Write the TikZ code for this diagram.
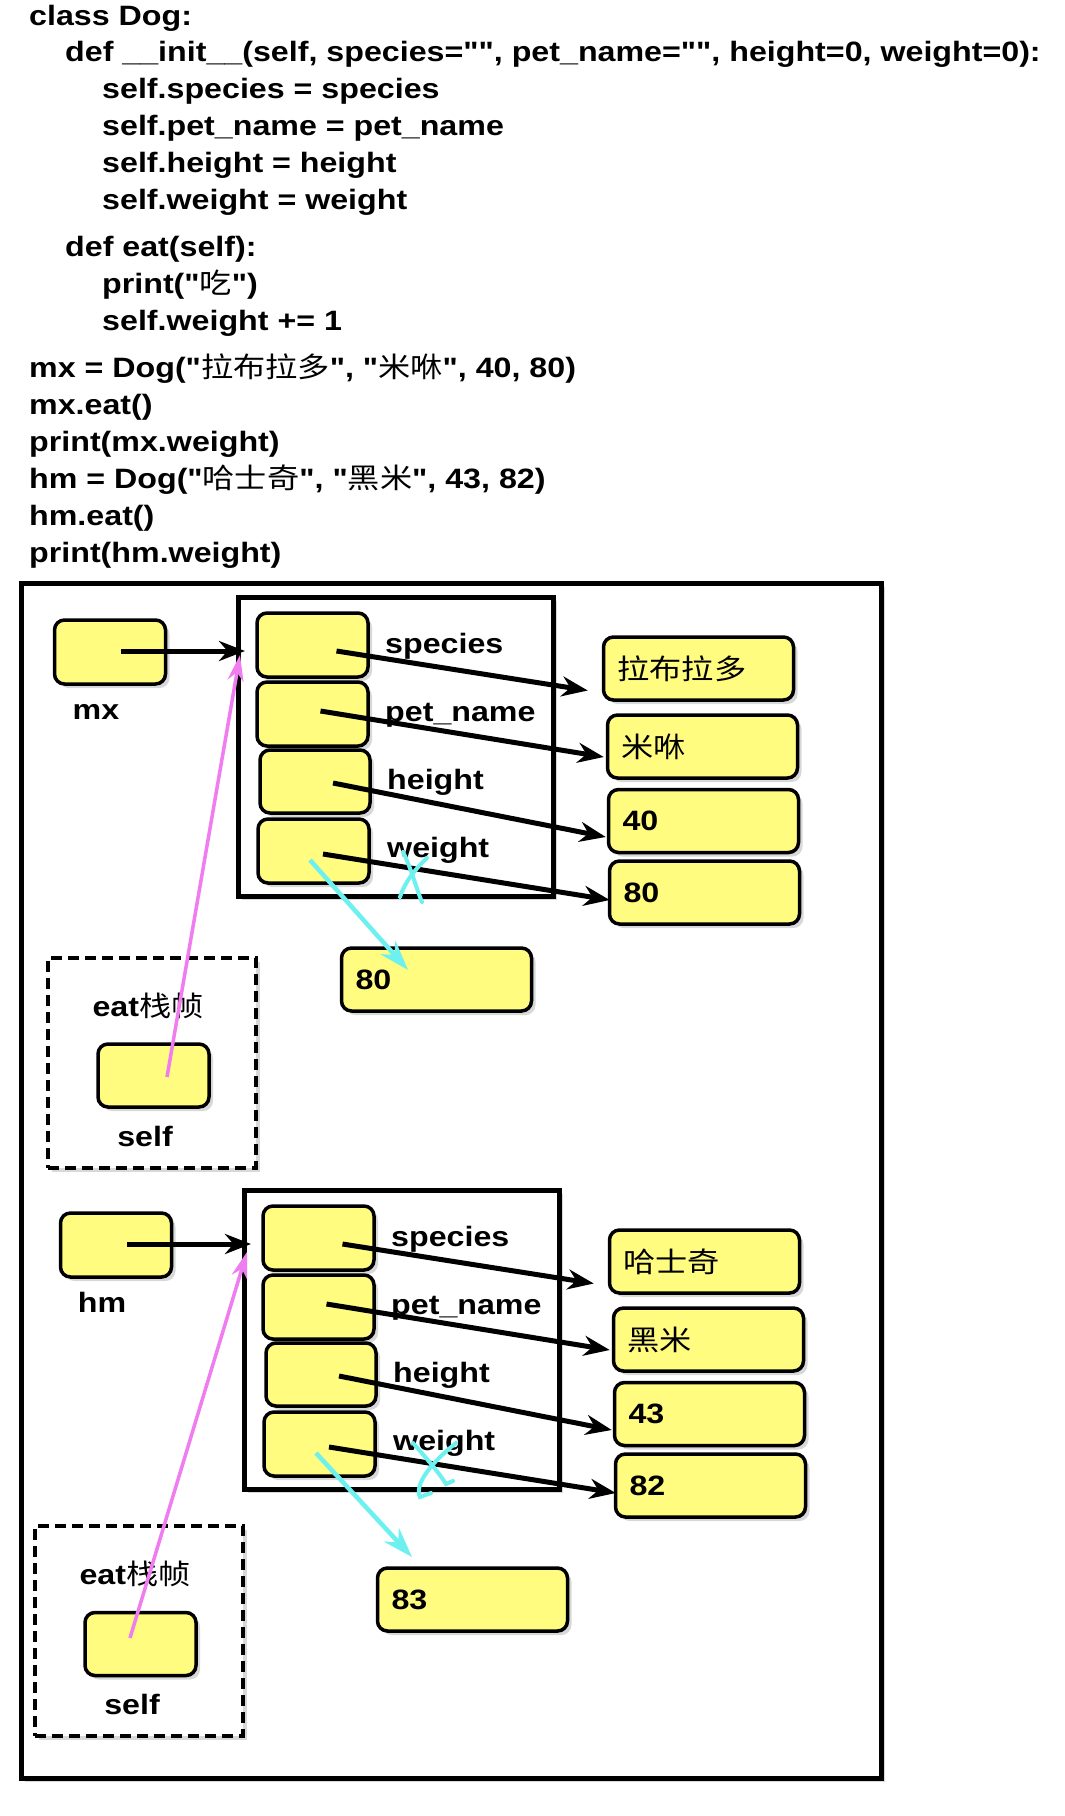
\documentclass[tikz,border=0pt]{standalone}
\usepackage{fontspec}
\usepackage{graphicx}
\setmainfont{Liberation Sans}[Ligatures=TeXOff]
\newfontfamily\cjk{Noto Sans CJK SC}
\usetikzlibrary{arrows.meta,shadows}
\definecolor{yel}{RGB}{255,252,128}
\definecolor{mag}{RGB}{240,125,240}
\definecolor{cya}{RGB}{108,240,240}
\newcommand\ST[1]{\scalebox{1.15}[1]{#1}}
\newcommand\C[1]{{\cjk\mdseries #1}}
\tikzset{
  shad/.style={drop shadow={shadow xshift=4pt,shadow yshift=-4pt,opacity=.3}},
  ybox/.style={draw,line width=3.5pt,rounded corners=10pt,fill=yel,shad,inner sep=0pt},
  slotbox/.style={ybox,minimum width=111pt,minimum height=64pt},
  valbox/.style={ybox,minimum height=63pt,text width=162pt,inner xsep=14pt,align=left},
  objbox/.style={draw,line width=5pt,fill=white,shad,minimum width=315pt,minimum height=299pt,inner sep=0pt},
  frame/.style={draw,line width=5pt,fill=white,shad,inner sep=0pt},
  eatframe/.style={draw,line width=4.5pt,dash pattern=on 11pt off 6pt,fill=white,shad,minimum width=208pt,minimum height=210pt,inner sep=0pt},
  code/.style={anchor=base west,inner sep=0pt},
  lbl/.style={anchor=base west,inner sep=0pt},
  arr/.style={line width=5pt,-{Stealth[length=26pt,width=20pt]}},
  magarr/.style={mag,line width=3.5pt,-{Stealth[length=26pt,width=16pt]}},
  cyaarr/.style={cya,line width=4.5pt,-{Stealth[length=30pt,width=20pt]}},
  cyamark/.style={cya,line width=4pt,line cap=round},
}
\newcommand\DogObj[6]{%
  \node[slotbox] (#1var) at (110,652) {};
  \node[anchor=base,inner sep=0pt] (#1varl) at (96,719) {\ST{#2}};
  \node[objbox] (#1obj) at (395.5,746.5) {};
  \node[slotbox] (#1s1) at (312.5,645) {};
  \node[slotbox] (#1s2) at (312.5,714) {};
  \node[slotbox,minimum width=110pt,minimum height=63pt] (#1s3) at (315,781.5) {};
  \node[slotbox] (#1s4) at (313.5,851) {};
  \node[lbl] (#1l1) at (385,653) {\ST{species}};
  \node[lbl] (#1l2) at (385,721) {\ST{pet\_name}};
  \node[lbl] (#1l3) at (387,789) {\ST{height}};
  \node[lbl] (#1l4) at (387,857) {\ST{weight}};
  \node[valbox] (#1v1) at (698.5,668.5) {\ST{#3}};
  \node[valbox] (#1v2) at (702.5,746.5) {\ST{#4}};
  \node[valbox] (#1v3) at (703.5,821) {\ST{#5}};
  \node[valbox] (#1v4) at (704.5,892.5) {\ST{#6}};
  \coordinate (#1in) at (245,651);
  \draw[arr] ([shift={(11,-1)}]#1var.center) -- (#1in);
  \draw[arr] ([shift={(24,6)}]#1s1.center) -- ([shift={(-14,22)}]#1v1.west);
  \draw[arr] ([shift={(8,-3)}]#1s2.center) -- ([shift={(-2,10.5)}]#1v2.west);
  \draw[arr] ([shift={(18,1.5)}]#1s3.center) -- ([shift={(-1,16)}]#1v3.west);
  \draw[arr] ([shift={(9.5,3)}]#1s4.center) -- ([shift={(2,7.5)}]#1v4.west);
}
\begin{document}
\begin{tikzpicture}[x=1pt,y=-1pt,font=\fontsize{28pt}{34pt}\selectfont\bfseries]
\useasboundingbox[fill=white] (0,0) rectangle (1065,1816);
% code
\node[code] (c1) at (29,25) {\ST{class Dog:}};
\node[code] (c2) at (65,61) {\ST{def \_\_init\_\_(self, species="", pet\_name="", height=0, weight=0):}};
\node[code] (c3) at (102,98) {\ST{self.species = species}};
\node[code] (c4) at (102,135) {\ST{self.pet\_name = pet\_name}};
\node[code] (c5) at (102,172) {\ST{self.height = height}};
\node[code] (c6) at (102,209) {\ST{self.weight = weight}};
\node[code] (c7) at (65,256) {\ST{def eat(self):}};
\node[code] (c8) at (102,293) {\ST{print("\C{吃}")}};
\node[code] (c9) at (102,330) {\ST{self.weight += 1}};
\node[code] (c10) at (29,377) {\ST{mx = Dog("\C{拉布拉多}", "\C{米咻}", 40, 80)}};
\node[code] (c11) at (29,414) {\ST{mx.eat()}};
\node[code] (c12) at (29,451) {\ST{print(mx.weight)}};
\node[code] (c13) at (29,488) {\ST{hm = Dog("\C{哈士奇}", "\C{黑米}", 43, 82)}};
\node[code] (c14) at (29,525) {\ST{hm.eat()}};
\node[code] (c15) at (29,562) {\ST{print(hm.weight)}};
% outer frame
\node[frame,minimum width=860pt,minimum height=1195pt] (outer) at (451,1180.5) {};
% eat frames
\node[eatframe] (f1) at (152,1063) {};
\node[anchor=base,inner sep=0pt] (f1l) at (148,1016) {\ST{eat\C{栈帧}}};
\node[slotbox,minimum height=63pt] (self1) at (153.5,1075.5) {};
\node[anchor=base,inner sep=0pt] (self1l) at (145,1146) {\ST{self}};
\node[eatframe] (f2) at (139,1631) {};
\node[anchor=base,inner sep=0pt] (f2l) at (135,1584) {\ST{eat\C{栈帧}}};
\node[slotbox,minimum height=63pt] (self2) at (140.5,1644) {};
\node[anchor=base,inner sep=0pt] (self2l) at (132,1714) {\ST{self}};
% new weight boxes
\node[valbox] (n80) at (436.5,979.5) {\ST{80}};
\node[valbox] (n83) at (472.5,1599.5) {\ST{83}};
% objects
\DogObj{a}{mx}{\C{拉布拉多}}{\C{米咻}}{40}{80}
\begin{scope}[shift={(6,593)}]
\DogObj{b}{hm}{\C{哈士奇}}{\C{黑米}}{43}{82}
\end{scope}
% magenta self pointers
\coordinate (ain2) at (240,655);
\coordinate (bin2) at (247,1252);
\draw[magarr] ([shift={(13.5,1.5)}]self1.center) -- (ain2);
\draw[magarr] ([shift={(-10.5,-6)}]self2.center) -- (bin2);
% cyan new value arrows
\draw[cyaarr] ([shift={(-3.5,9)}]as4.center) -- ([shift={(-28.5,-9.5)}]n80.center);
\draw[cyaarr] ([shift={(-3.5,9)}]bs4.center) -- ([shift={(-60.5,-42.5)}]n83.center);
% cyan cross marks
\draw[cyamark] (403,852) .. controls (412,870) and (416,888) .. (422,902);
\draw[cyamark] (427,858) .. controls (414,870) and (404,884) .. (400,897);
\draw[cyamark] (413,1443) .. controls (428,1460) and (440,1474) .. (446,1484) -- (453,1481);
\draw[cyamark] (456,1443) .. controls (432,1462) and (414,1484) .. (420,1497) -- (431,1493);
\end{tikzpicture}
\end{document}
